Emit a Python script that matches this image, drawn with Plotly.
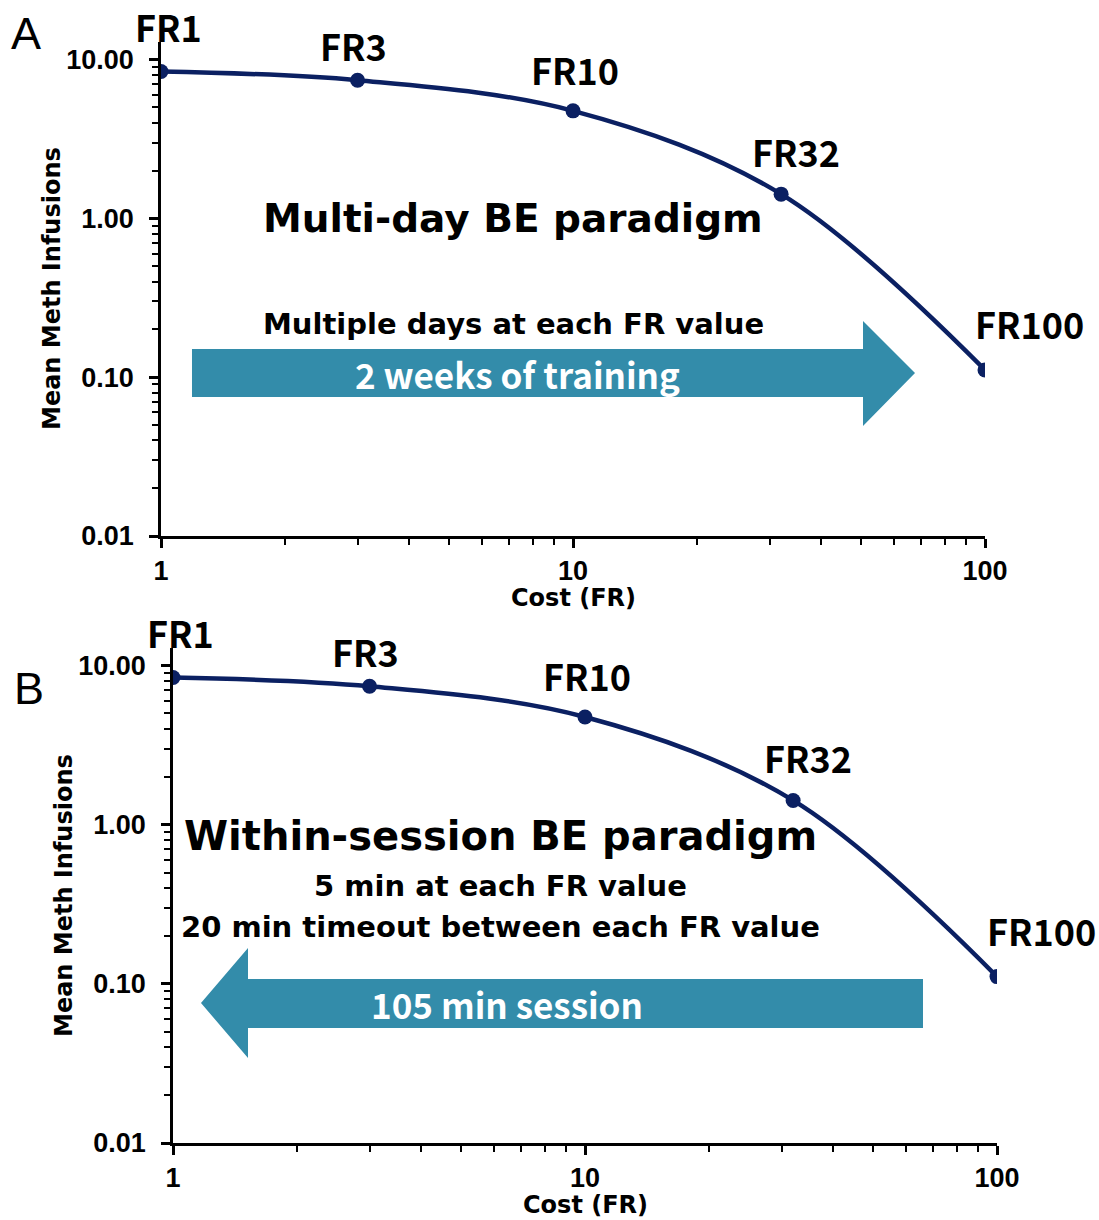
import numpy as np
import plotly.graph_objects as go

# Demand curve: cost (fixed ratio) vs mean meth infusions, shown for two paradigms
cost_fr = [1, 3, 10, 32, 100]
infusions_multiday = [8.4, 7.4, 4.75, 1.42, 0.111]
infusions_within = [8.4, 7.4, 4.75, 1.42, 0.111]
y_tick_vals = [0.01, 0.1, 1, 10]
y_tick_text = ["0.01", "0.10", "1.00", "10.00"]
x_tick_vals = [1, 10, 100]
x_tick_text = ["1", "10", "100"]

W, H = 1099, 1220
LINE_COLOR = "#0B2062"
ARROW_COLOR = "#338CAA"
TICK_FONT = dict(family="Arial, Liberation Sans, sans-serif", size=27, color="black", weight="bold")
TITLE_FONT = dict(family="DejaVu Sans", size=24, color="black", weight="bold")
NOTE_FONT = "DejaVu Sans"
FR_FONT = "Noto Sans CJK JP"


def px(x):
    return x / W


def py(y):
    return 1 - y / H


def minor_vals(lo_exp, hi_exp):
    return [k * 10.0 ** e for e in range(lo_exp, hi_exp) for k in range(2, 10)]


def axis_common():
    return dict(
        type="log", showline=True, linecolor="black", linewidth=2.5,
        ticks="outside", ticklen=9, tickwidth=2.5, tickcolor="black",
        showgrid=False, zeroline=False, tickfont=TICK_FONT, automargin=False,
    )


fig = go.Figure()

panels = [
    dict(xa="x", ya="y", data=infusions_multiday,
         xdom=[px(161), px(985)], ydom=[py(536), py(42)],
         xtitle=(573, 598), ytitle=(52, 289)),
    dict(xa="x2", ya="y2", data=infusions_within,
         xdom=[px(173), px(997)], ydom=[py(1143), py(648)],
         xtitle=(585, 1205), ytitle=(64, 896)),
]

for p in panels:
    fig.add_trace(go.Scatter(
        x=cost_fr, y=p["data"], xaxis=p["xa"], yaxis=p["ya"],
        mode="lines+markers", line=dict(color=LINE_COLOR, width=4.5, shape="spline", smoothing=1),
        marker=dict(color=LINE_COLOR, size=15), showlegend=False, hoverinfo="x+y",
    ))

layout_axes = {}
for i, p in enumerate(panels):
    xkey = "xaxis" if i == 0 else "xaxis2"
    ykey = "yaxis" if i == 0 else "yaxis2"
    xa = axis_common()
    xa.update(domain=p["xdom"], anchor=p["ya"], range=[0, 2],
              tickvals=x_tick_vals, ticktext=x_tick_text, ticklabelstandoff=0,
              minor=dict(tickvals=minor_vals(0, 2), ticks="outside", ticklen=6,
                         tickwidth=2, tickcolor="black"))
    ya = axis_common()
    ya.update(domain=p["ydom"], anchor=p["xa"], range=[-2, 1.11],
              tickvals=y_tick_vals, ticktext=y_tick_text, ticklabelstandoff=10,
              minor=dict(tickvals=minor_vals(-2, 2), ticks="outside", ticklen=6,
                         tickwidth=2, tickcolor="black"))
    layout_axes[xkey] = xa
    layout_axes[ykey] = ya

annotations = []

# Axis titles
for p in panels:
    annotations.append(dict(x=px(p["xtitle"][0]), y=py(p["xtitle"][1]), xref="paper", yref="paper",
                            text="Cost (FR)", showarrow=False, xanchor="center", yanchor="middle",
                            font=TITLE_FONT))
    annotations.append(dict(x=px(p["ytitle"][0]), y=py(p["ytitle"][1]), xref="paper", yref="paper",
                            text="Mean Meth Infusions", showarrow=False, textangle=-90,
                            xanchor="center", yanchor="middle", font=TITLE_FONT))

# FR labels sit above-right of each point
label_shift = [(7, 46), (-4, 35), (2, 42), (15, 43), (44, 47)]
for p in panels:
    for c, v, (dx, dy) in zip(cost_fr, p["data"], label_shift):
        annotations.append(dict(
            x=np.log10(c), y=np.log10(v), xref=p["xa"], yref=p["ya"],
            text=f"FR{c}", showarrow=False, xshift=dx, yshift=dy,
            font=dict(family=FR_FONT, size=36, color="black", weight="bold"),
        ))

# Panel letters
for letter, (cx, cy) in [("A", (26, 34)), ("B", (29, 688))]:
    annotations.append(dict(x=px(cx), y=py(cy), xref="paper", yref="paper", text=letter,
                            showarrow=False, xanchor="center", yanchor="middle",
                            font=dict(family="Arial, Liberation Sans", size=45, color="black")))


def note(text, cx, cy, size, color="black", family=NOTE_FONT):
    annotations.append(dict(
        x=px(cx), y=py(cy), xref="paper", yref="paper", text=text, showarrow=False,
        xanchor="center", yanchor="middle",
        font=dict(family=family, size=size, color=color, weight="bold"),
    ))


# Panel A notes
note("Multi-day BE paradigm", 513, 218, 39)
note("Multiple days at each FR value", 513, 324, 29)
note("2 weeks of training", 517, 374, 35, color="white", family=FR_FONT)

# Panel B notes
note("Within-session BE paradigm", 500, 836, 40)
note("5 min at each FR value", 500, 886, 29)
note("20 min timeout between each FR value", 500, 927, 29)
note("105 min session", 507, 1003, 35, color="white", family=FR_FONT)


def arrow_path(points):
    pts = [f"{px(x):.5f},{py(y):.5f}" for x, y in points]
    return "M " + " L ".join(pts) + " Z"


shapes = [
    # rightward arrow: two weeks of training
    dict(type="path", xref="paper", yref="paper", layer="below",
         path=arrow_path([(192, 349), (863, 349), (863, 321), (915, 373),
                          (863, 426), (863, 397), (192, 397)]),
         fillcolor=ARROW_COLOR, line=dict(width=0)),
    # leftward arrow: single session
    dict(type="path", xref="paper", yref="paper", layer="below",
         path=arrow_path([(923, 979), (248, 979), (248, 948), (201, 1003),
                          (248, 1058), (248, 1028), (923, 1028)]),
         fillcolor=ARROW_COLOR, line=dict(width=0)),
]

fig.update_layout(
    width=W, height=H, margin=dict(l=0, r=0, t=0, b=0, autoexpand=False),
    paper_bgcolor="white", plot_bgcolor="rgba(0,0,0,0)",
    annotations=annotations, shapes=shapes, **layout_axes,
)

fig.write_html("out.html")
